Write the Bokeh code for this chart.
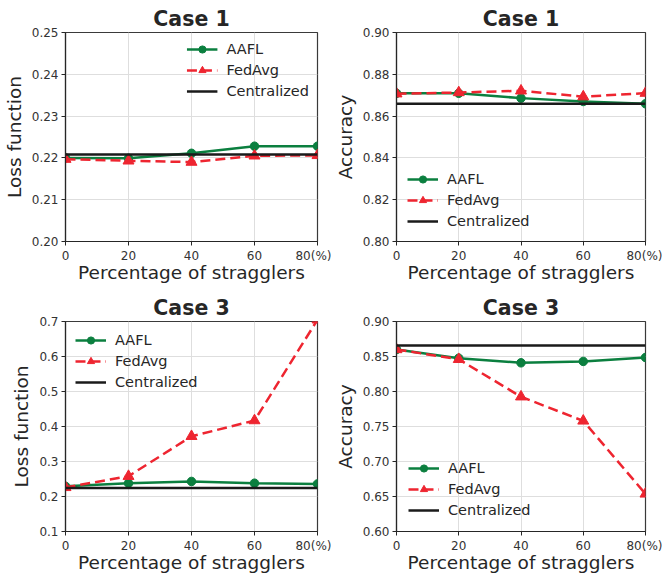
from bokeh.plotting import figure
from bokeh.layouts import gridplot
from bokeh.models import FixedTicker, Range1d
from bokeh.embed import file_html
from bokeh.resources import INLINE

x_pct = [0, 20, 40, 60, 80]
x_tick_labels = ["0", "20", "40", "60", "80(%)"]

case1_loss_aafl = [0.2200, 0.2199, 0.2211, 0.2228, 0.2228]
case1_loss_fedavg = [0.2197, 0.2193, 0.2190, 0.2205, 0.2206]
case1_loss_central = 0.2208

case1_acc_aafl = [0.8709, 0.8709, 0.8686, 0.8670, 0.8659]
case1_acc_fedavg = [0.8707, 0.8713, 0.8721, 0.8693, 0.8710]
case1_acc_central = 0.8659

case3_loss_aafl = [0.229, 0.238, 0.243, 0.238, 0.236]
case3_loss_fedavg = [0.226, 0.258, 0.372, 0.417, 0.705]
case3_loss_central = 0.2245

case3_acc_aafl = [0.8600, 0.8476, 0.8410, 0.8430, 0.8486]
case3_acc_fedavg = [0.8600, 0.8460, 0.7925, 0.7580, 0.6537]
case3_acc_central = 0.8657

GREEN = "#0b7f3f"
RED = "#ee2530"
BLACK = "#1a1a1a"
TEXT = "#262626"
FONT = "DejaVu Sans"


def make_panel(title, ylabel, yr, yticks, yfmt, aafl, fedavg, central,
               legend_loc, legend_margin, width, height, bl, br, bt, bb):
    p = figure(width=width, height=height, output_backend="svg", toolbar_location=None,
               x_range=Range1d(0, 80), y_range=Range1d(*yr),
               min_border_left=bl, min_border_right=br, min_border_top=bt, min_border_bottom=bb)
    p.title.text = title
    p.title.text_font = FONT
    p.title.text_font_size = "20.5px"
    p.title.text_font_style = "bold"
    p.title.text_color = TEXT
    p.title.align = "center"
    p.title.standoff = 4

    p.outline_line_color = "#3a3a3a"
    p.outline_line_width = 1.2
    p.background_fill_color = "white"
    p.border_fill_color = "white"

    p.xaxis.ticker = FixedTicker(ticks=x_pct)
    p.xaxis.major_label_overrides = {v: s for v, s in zip(x_pct, x_tick_labels)}
    p.yaxis.ticker = FixedTicker(ticks=yticks)
    p.yaxis.major_label_overrides = {v: format(v, yfmt) for v in yticks}

    for ax in (p.xaxis[0], p.yaxis[0]):
        ax.axis_line_color = TEXT
        ax.axis_line_width = 1.2
        ax.major_tick_line_color = TEXT
        ax.major_tick_out = 4
        ax.major_tick_in = 0
        ax.minor_tick_out = 0
        ax.minor_tick_in = 0
        ax.major_label_text_font = FONT
        ax.major_label_text_font_size = "12px"
        ax.major_label_text_color = "#333333"
        ax.axis_label_text_font = FONT
        ax.axis_label_text_font_size = "18.5px"
        ax.axis_label_text_font_style = "normal"
        ax.axis_label_text_color = TEXT

    p.xaxis.major_label_standoff = 3
    p.xaxis.axis_label_standoff = -4
    p.yaxis.major_label_standoff = 3
    p.yaxis.axis_label_standoff = 4

    p.xaxis.axis_label = "Percentage of stragglers"
    p.yaxis.axis_label = ylabel

    p.grid.grid_line_color = "#dedede"
    p.grid.grid_line_width = 1

    p.line(x_pct, aafl, line_color=GREEN, line_width=2.5, legend_label="AAFL")
    p.scatter(x_pct, aafl, marker="circle", size=8.5, fill_color=GREEN, line_color=GREEN,
              legend_label="AAFL")
    p.line(x_pct, fedavg, line_color=RED, line_width=2.5, line_dash="10 5",
           legend_label="FedAvg")
    p.scatter(x_pct, fedavg, marker="triangle", size=11, fill_color=RED, line_color=RED,
              legend_label="FedAvg")
    p.line(x_pct, [central] * len(x_pct), line_color=BLACK, line_width=2.5,
           legend_label="Centralized")

    lg = p.legend[0]
    lg.location = legend_loc
    lg.margin = legend_margin
    lg.padding = 0
    lg.spacing = 3
    lg.border_line_alpha = 0
    lg.background_fill_alpha = 0
    lg.label_text_font = FONT
    lg.label_text_font_size = "14.5px"
    lg.label_text_color = TEXT
    lg.glyph_width = 31
    lg.glyph_height = 18
    lg.label_height = 18
    lg.label_standoff = 9
    return p


p1 = make_panel("Case 1", "Loss function", (0.20, 0.25),
                [0.20, 0.21, 0.22, 0.23, 0.24, 0.25], ".2f",
                case1_loss_aafl, case1_loss_fedavg, case1_loss_central,
                "top_right", 8, 331, 290, 65, 14, 32, 49)
p2 = make_panel("Case 1", "Accuracy", (0.80, 0.90),
                [0.80, 0.82, 0.84, 0.86, 0.88, 0.90], ".2f",
                case1_acc_aafl, case1_acc_fedavg, case1_acc_central,
                "bottom_left", 11, 331, 290, 62, 17, 32, 49)
p3 = make_panel("Case 3", "Loss function", (0.1, 0.7),
                [0.1, 0.2, 0.3, 0.4, 0.5, 0.6, 0.7], ".1f",
                case3_loss_aafl, case3_loss_fedavg, case3_loss_central,
                "top_left", 10, 331, 287, 65, 14, 31, 46)
p4 = make_panel("Case 3", "Accuracy", (0.60, 0.90),
                [0.60, 0.65, 0.70, 0.75, 0.80, 0.85, 0.90], ".2f",
                case3_acc_aafl, case3_acc_fedavg, case3_acc_central,
                "bottom_left", 12, 331, 287, 62, 17, 31, 46)

grid = gridplot([[p1, p2], [p3, p4]], toolbar_location=None)

open("out.html", "w").write(file_html(grid, INLINE))
